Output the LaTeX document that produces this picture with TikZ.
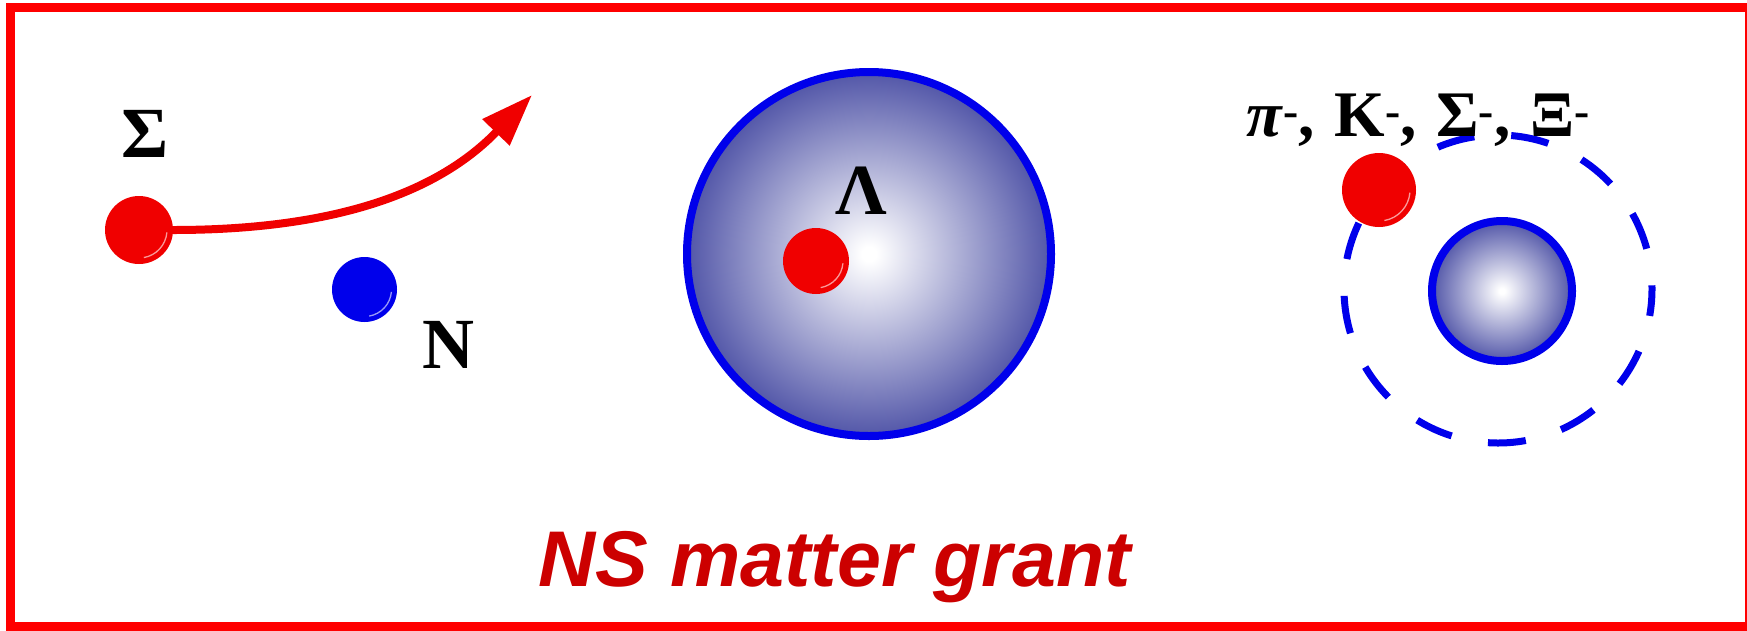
\documentclass[tikz,border=0pt]{standalone}
\usepackage{fontspec}
\setmainfont{Liberation Serif}
\newfontfamily\arialfont{Liberation Sans}
\usetikzlibrary{arrows.meta}
\definecolor{sphblue}{RGB}{82,86,168}
\definecolor{rimblue}{RGB}{0,0,235}
\definecolor{ballred}{RGB}{240,0,0}
\definecolor{ballblue}{RGB}{0,0,235}
\definecolor{framered}{RGB}{255,0,0}
\definecolor{titlered}{RGB}{204,0,0}
\pgfdeclareradialshading{sphshade}{\pgfpointorigin}{color(0bp)=(white); color(1bp)=(white); color(25bp)=(sphblue); color(50bp)=(sphblue)}
\newcommand{\ballhl}[2]{\draw[white, opacity=.6, line width=1.3pt] (#1.center) ++(5:#2) arc[start angle=5, end angle=80, radius=#2];}
\newcommand{\gapsp}{\hspace{0.3em}}
\tikzset{
  ball/.style={circle, inner sep=0pt, outer sep=0pt, draw=none},
  sphere/.style={circle, inner sep=0pt, outer sep=0pt, draw=rimblue, line width=8pt, shading=sphshade},
  biglabel/.style={anchor=base, inner sep=0pt, font=\bfseries\fontsize{72}{80}\selectfont},
}
\begin{document}
\begin{tikzpicture}[x=1pt, y=-1pt]
\useasboundingbox (0,0) rectangle (1747,630);
\fill[white] (0,0) rectangle (1747,630);
% frame
\draw[framered, line width=8.5pt] (10.5,7.5) rectangle (1749,626.5);

% left: Sigma scattering off N
\node[ball, fill=ballred, minimum size=68pt] (sb) at (139,230) {};
\ballhl{sb}{28}
\node[biglabel] (sl) at (145,157) {Σ};
\coordinate (tip) at (532,95);
\draw[ballred, line width=8pt, -{Triangle[length=52pt, width=36pt]}] (sb.east) .. controls (360,230) and (450,180) .. (tip);
\node[ball, fill=ballblue, minimum size=65pt] (nb) at (364.5,289.5) {};
\ballhl{nb}{27}
\node[biglabel] (nl) at (448,368) {N};

% middle: Lambda in nucleus
\node[sphere, minimum size=364pt] (big) at (869,254) {};
\node[ball, fill=ballred, minimum size=66pt] (lb) at (816,261) {};
\ballhl{lb}{27}
\node[biglabel] (ll) at (861,214) {Λ};

% right: hadronic atom
\coordinate (nuc) at (1498,289);
\draw[rimblue, line width=7pt, dash pattern=on 38pt off 37pt, dash phase=11pt] (nuc) circle[radius=154];
\node[sphere, minimum size=140pt] (small) at (1502,291) {};
\node[ball, fill=ballred, minimum size=74pt] (rb) at (1379,190) {};
\ballhl{rb}{31}
\node[anchor=base west, inner sep=0pt, font=\bfseries\fontsize{65}{70}\selectfont] (lab) at (1246,136) {\textit{π}\textsuperscript{-},\gapsp K\textsuperscript{-},\gapsp Σ\textsuperscript{-},\gapsp Ξ\textsuperscript{-}};

% title
\node[anchor=base, inner sep=0pt, text=titlered, font=\arialfont\bfseries\itshape\fontsize{79}{90}\selectfont] (title) at (835,586) {NS matter grant};
\end{tikzpicture}
\end{document}
